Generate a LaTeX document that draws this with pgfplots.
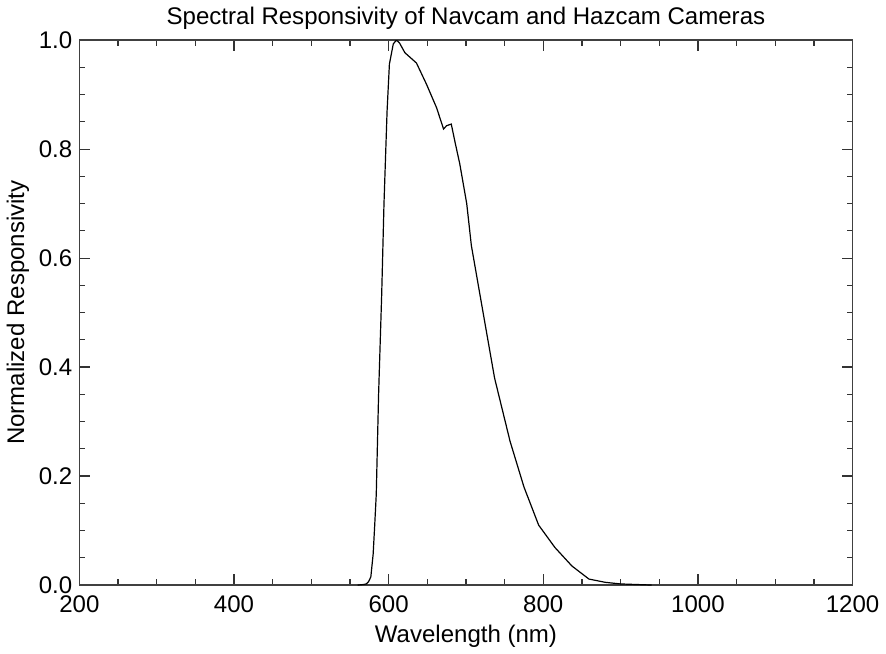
\documentclass[border=0pt]{standalone}
\usepackage{fontspec}
\setmainfont{Liberation Sans}
\usepackage{pgfplots}
\pgfplotsset{compat=1.18}

\begin{document}
\begin{tikzpicture}
\begin{axis}[
    scale only axis,
    width=386pt,
    height=272pt,
    xmin=200, xmax=1200,
    ymin=0, ymax=1,
    xtick={200,400,...,1200},
    ytick={0,0.2,...,1.0},
    minor x tick num=3,
    minor y tick num=3,
    tick pos=both,
    tick align=inside,
    major tick length=5.5pt,
    minor tick length=3pt,
    axis line style={black!75, line width=0.8pt},
    every tick/.style={black!80, line width=0.6pt},
    font=\fontsize{12}{14}\selectfont,
    tick label style={font=\fontsize{12}{14}\selectfont},
    /pgf/number format/assume math mode=true,
    /pgf/number format/1000 sep={},
    yticklabel style={/pgf/number format/.cd, fixed, fixed zerofill, precision=1},
    xticklabel style={yshift=-2pt},
    title={Spectral Responsivity of Navcam and Hazcam Cameras},
    title style={yshift=-4pt},
    xlabel={Wavelength (nm)},
    ylabel={Normalized Responsivity},
    xlabel style={yshift=1pt},
    ylabel style={yshift=-2pt},
]
\addplot[black, line width=0.6pt] coordinates {
(560,0) (568,0.001) (571,0.002) (574,0.006) (577,0.015) (580,0.057)
(582,0.11) (584,0.166) (587,0.349) (591,0.532) (594,0.70) (598,0.87)
(601,0.956) (606,0.993) (610,1.0) (614,0.995) (621,0.977) (636,0.958)
(649,0.919) (662,0.876) (671,0.837) (675,0.843) (681,0.846) (686,0.812)
(692,0.773) (701,0.70) (707,0.623) (716,0.55) (725,0.477) (737,0.38)
(757,0.264) (775,0.18) (794,0.11) (815,0.069) (837,0.035) (859,0.011)
(880,0.005) (900,0.002) (940,0.0)
};
\end{axis}
\end{tikzpicture}
\end{document}
